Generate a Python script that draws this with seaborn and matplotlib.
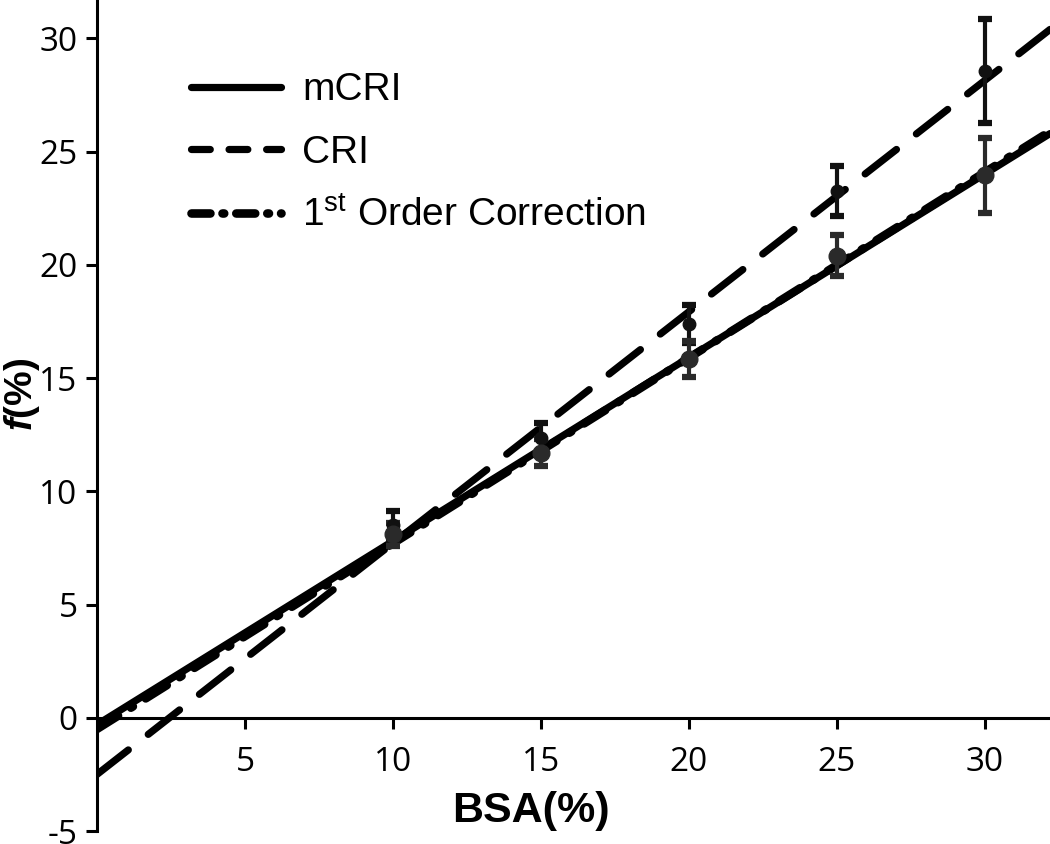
import numpy as np
import pandas as pd
import seaborn as sns
import matplotlib.pyplot as plt
from matplotlib.lines import Line2D

# fitted lines (end points)
line_x = [0, 32.2]
mcri_y = [-0.3, 25.8]
cri_y = [-2.5, 30.4]
corr_y = [-0.5, 25.9]

# measured points with error bars
bsa = [10, 15, 20, 25, 30]
cri_pts = [8.5, 12.35, 17.4, 23.25, 28.55]
cri_err = [0.65, 0.65, 0.85, 1.1, 2.3]
mcri_pts = [8.1, 11.7, 15.85, 20.4, 23.95]
mcri_err = [0.5, 0.6, 0.8, 0.9, 1.65]

sns.set_theme(style="ticks")
plt.rcParams['font.family'] = ['Open Sans', 'DejaVu Sans']
plt.rcParams['axes.unicode_minus'] = False
plt.rcParams['text.color'] = 'black'
plt.rcParams['axes.labelcolor'] = 'black'
plt.rcParams['mathtext.fontset'] = 'custom'
plt.rcParams['mathtext.rm'] = 'Liberation Sans'
plt.rcParams['mathtext.bf'] = 'Liberation Sans:bold'
plt.rcParams['mathtext.it'] = 'Liberation Sans:italic'
plt.rcParams['mathtext.bfit'] = 'Liberation Sans:italic:bold'

fig = plt.figure(figsize=(10.5, 8.44), dpi=100)
ax = fig.add_axes([0.0924, 0.0154, 0.9076, 0.9846])

lines_df = pd.DataFrame({'x': line_x * 3,
                         'y': mcri_y + cri_y + corr_y,
                         'model': ['mCRI'] * 2 + ['CRI'] * 2 + ['corr'] * 2})

lw = 5.2
sns.lineplot(data=lines_df[lines_df.model == 'mCRI'], x='x', y='y', ax=ax,
             color='black', lw=lw, solid_capstyle='round', zorder=3)
sns.lineplot(data=lines_df[lines_df.model == 'CRI'], x='x', y='y', ax=ax,
             color='black', lw=lw, zorder=3)
ax.lines[-1].set_linestyle((0, (5.5, 3.5)))
ax.lines[-1].set_dash_capstyle('round')
sns.lineplot(data=lines_df[lines_df.model == 'corr'], x='x', y='y', ax=ax,
             color='black', lw=lw + 0.8, zorder=3)
ax.lines[-1].set_linestyle((0, (3, 1.8, 0.3, 1.8)))
ax.lines[-1].set_dash_capstyle('round')

ax.errorbar(bsa, cri_pts, yerr=cri_err, fmt='o', color='#111111', ms=9,
            elinewidth=3, capsize=5, capthick=4.5, zorder=4)
ax.errorbar(bsa, mcri_pts, yerr=mcri_err, fmt='o', color='#2a2a2a', ms=12,
            elinewidth=3, capsize=5, capthick=4.5, zorder=4)

ax.set_xlim(0, 32.2)
ax.set_ylim(-5, 31.7)
ax.spines['left'].set_position(('data', 0))
ax.spines['bottom'].set_position(('data', 0))
ax.spines['right'].set_visible(False)
ax.spines['top'].set_visible(False)
for s in ['left', 'bottom']:
    ax.spines[s].set_linewidth(2.2)
    ax.spines[s].set_color('black')
ax.spines['left'].set_bounds(-5, 31.7)

ax.set_xticks([5, 10, 15, 20, 25, 30])
ax.set_yticks([-5, 0, 5, 10, 15, 20, 25, 30])
ax.tick_params(axis='both', labelsize=24, width=2.2, length=8, direction='out',
               colors='black', pad=6)
ax.tick_params(axis='x', pad=12)

ax.set_xlabel('BSA(%)', fontsize=31, fontweight='bold', family='Liberation Sans')
ax.xaxis.set_label_coords(0.455, 0.048)
ax.set_ylabel(r'$\mathbfit{f}$(%)', fontsize=28, fontweight='bold',
              family='Liberation Sans')
ax.yaxis.set_label_coords(-0.058, 0.525)

handles = [
    Line2D([], [], color='black', lw=lw, solid_capstyle='round'),
    Line2D([], [], color='black', lw=lw, ls=(0, (2.6, 2.6)), dash_capstyle='round'),
    Line2D([], [], color='black', lw=lw + 1, ls=(0, (2.2, 1.4, 0.2, 1.4)),
           dash_capstyle='round'),
]
labels = ['mCRI', 'CRI', r'1$^{\mathrm{st}}$ Order Correction']
leg = ax.legend(handles, labels, loc='upper left', bbox_to_anchor=(0.062, 0.955),
                frameon=False, handlelength=2.3, handletextpad=0.55,
                labelspacing=0.68, prop={'family': 'Liberation Sans', 'size': 28})

fig.savefig('out.png', dpi=100)
